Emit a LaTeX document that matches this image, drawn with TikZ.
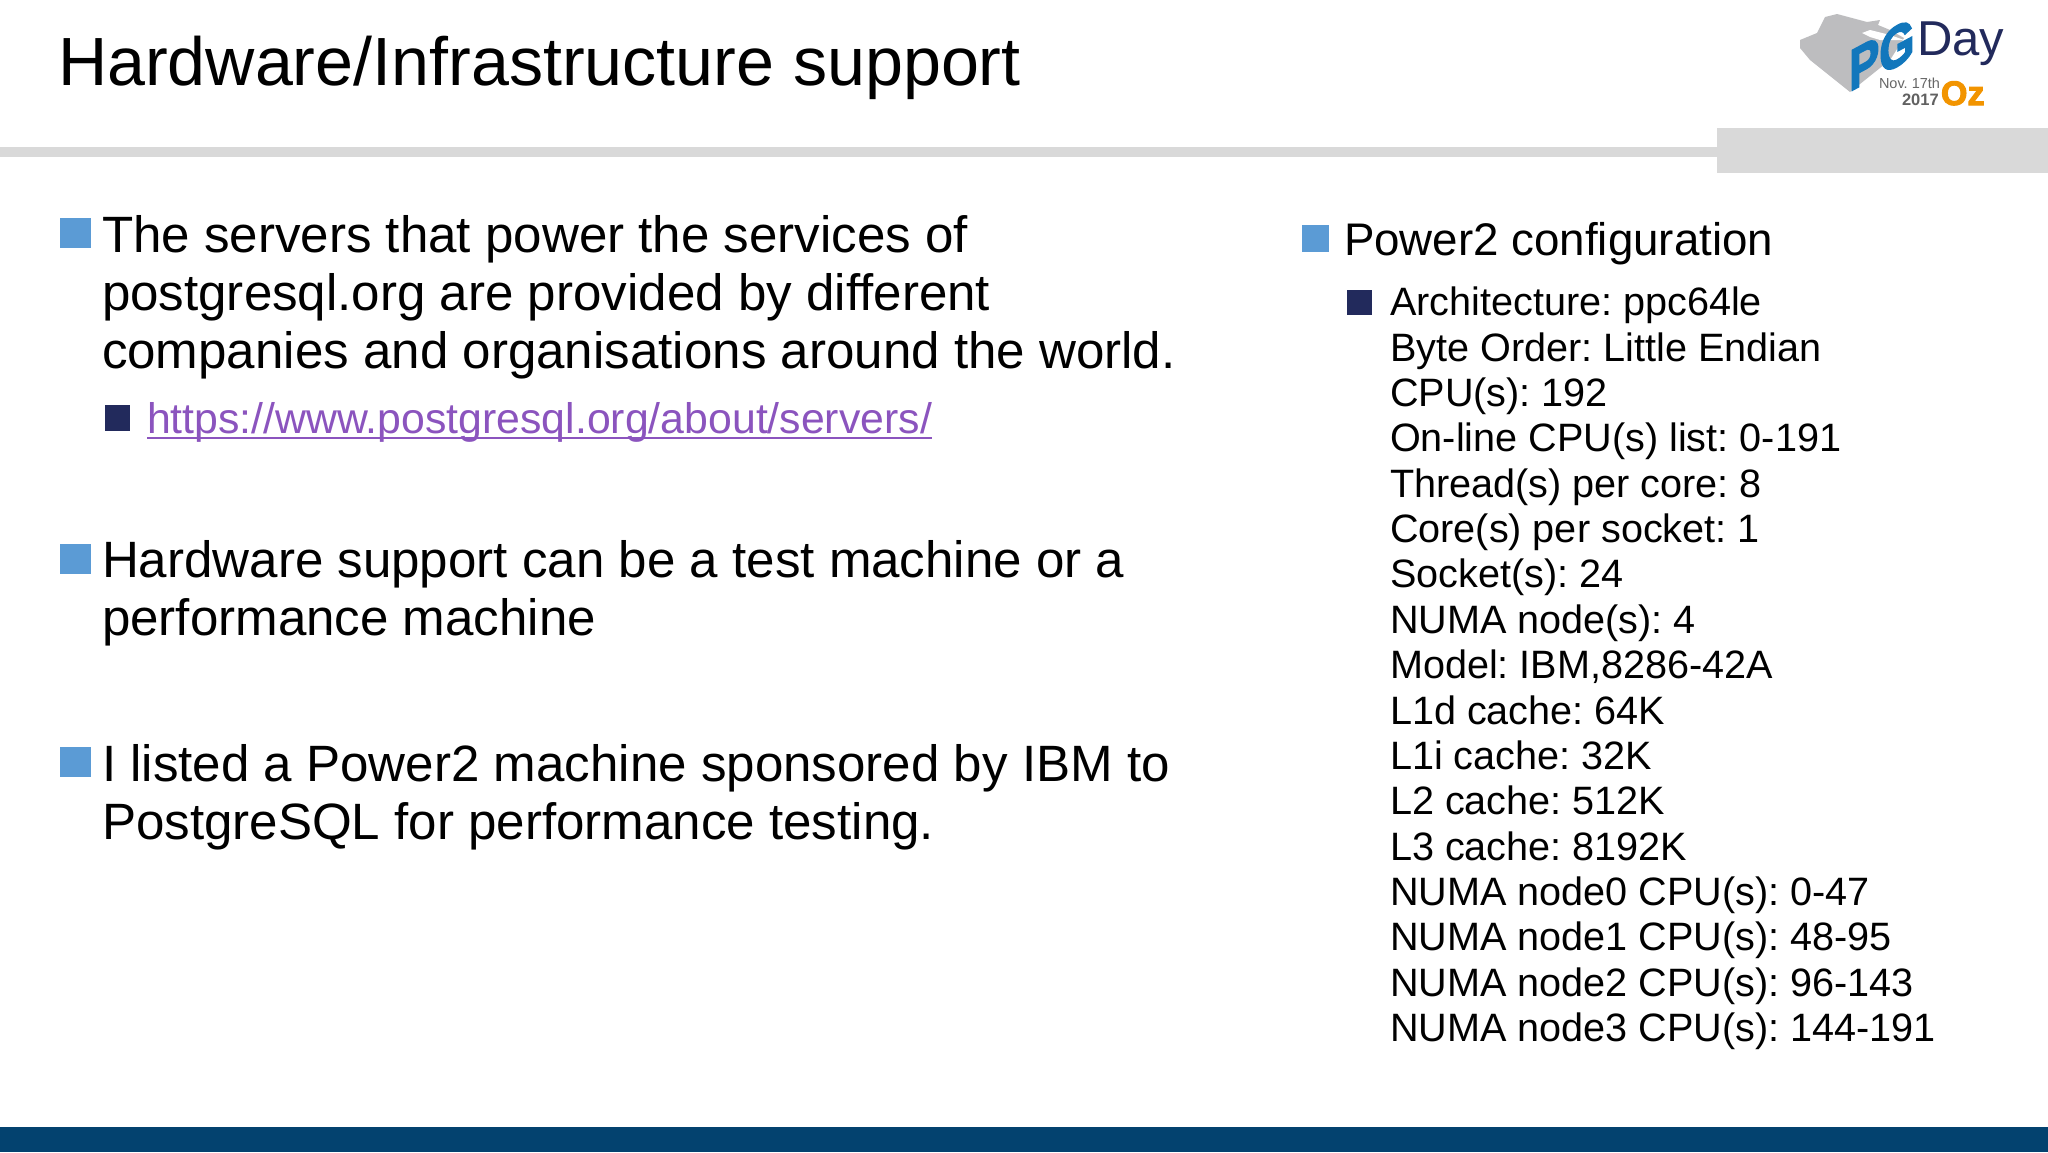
\documentclass[tikz,border=0pt]{standalone}
\usepackage{fontspec}
\setmainfont{Liberation Sans}
\newfontfamily\logoheavy[FakeBold=3]{Liberation Sans Bold}
\frenchspacing
\definecolor{lblue}{HTML}{5B9BD5}
\definecolor{navy}{HTML}{222A5C}
\definecolor{barg}{HTML}{D9D9D9}
\definecolor{foot}{HTML}{03426F}
\definecolor{linkc}{HTML}{8B54BE}
\definecolor{pgblue}{HTML}{1277BC}
\definecolor{ozor}{HTML}{F29400}
\definecolor{mapg}{HTML}{BDBDBF}
\tikzset{
  txt/.style={anchor=base west,inner sep=0pt,outer sep=0pt,text=black},
  main/.style={txt,font=\fontsize{51.1}{58}\selectfont},
  sub/.style={txt,font=\fontsize{42.8}{46}\selectfont},
  small/.style={txt,font=\fontsize{39.6}{45}\selectfont},
  bulletA/.style={fill=lblue,draw=none},
  bulletB/.style={fill=navy,draw=none}
}
\begin{document}
\begin{tikzpicture}[x=1pt,y=-1pt]
\useasboundingbox (0,0) rectangle (2048,1152);
\fill[white] (0,0) rectangle (2048,1152);
% header bars
\fill[barg] (0,147) rectangle (1720,157);
\fill[barg] (1717,128) rectangle (2048,173);
\fill[foot] (0,1127) rectangle (2048,1152);
\node[txt,font=\fontsize{68.2}{70}\selectfont] (title) at (58,85) {Hardware/Infrastructure support};
% logo
\fill[mapg] (1800,40) -- (1817,33) -- (1825,17) -- (1837,14) -- (1867,22) -- (1880,20) -- (1878,25) -- (1890,30) -- (1904,38) -- (1890,60) -- (1850,92) -- (1810,60) -- (1800,48) -- cycle;
\fill[white] (1862,33) -- (1870,30) -- (1890,35) -- (1904,40) -- (1880,40) -- (1870,37) -- cycle;
\node[anchor=base west,inner sep=0pt,text=pgblue,font=\fontsize{58}{58}\logoheavy,xscale=0.78,yslant=0.42,transform shape] (pg) at (1849,92) {PG};
\node[txt,text=navy,font=\fontsize{49}{49}\selectfont] (day) at (1917,55) {Day};
\node[txt,text=black!60,font=\fontsize{14.5}{15}\selectfont] (nov) at (1879,88) {Nov. 17th};
\node[txt,text=black!62,font=\fontsize{16.5}{18}\bfseries] (yr) at (1902,105) {2017};
\node[txt,text=ozor,font=\fontsize{34}{36}\logoheavy] (oz) at (1941,105) {Oz};
% left
\fill[bulletA] (60,218) rectangle (91,248);
\node[main] (a1) at (102,252) {The servers that power the services of};
\node[main] (a2) at (102,310) {postgresql.org are provided by different};
\node[main] (a3) at (102,368) {companies and organisations around the world.};
\fill[bulletB] (105,405) rectangle (130,431);
\node[sub,text=linkc] (link) at (147,433) {https://www.postgresql.org/about/servers/};
\draw[linkc,line width=2.5pt] ([yshift=-5pt]link.base west) -- ([yshift=-5pt]link.base east);
\fill[bulletA] (60,544) rectangle (91,574);
\node[main] (b1) at (102,577) {Hardware support can be a test machine or a};
\node[main] (b2) at (102,635.5) {performance machine};
\fill[bulletA] (60,747) rectangle (91,777);
\node[main] (c1) at (102,781) {I listed a Power2 machine sponsored by IBM to};
\node[main] (c2) at (102,839) {PostgreSQL for performance testing.};
% right
\fill[bulletA] (1302,225) rectangle (1329,252);
\node[txt,font=\fontsize{45.7}{46}\selectfont] (p) at (1344,255) {Power2 configuration};
\fill[bulletB] (1347,290) rectangle (1372,315);
\foreach \i/\t in {0/{Architecture: ppc64le},1/{Byte Order: Little Endian},2/{CPU(s): 192},3/{On-line CPU(s) list: 0-191},4/{Thread(s) per core: 8},5/{Core(s) per socket: 1},6/{Socket(s): 24},7/{NUMA node(s): 4},8/{Model: IBM,8286-42A},9/{L1d cache: 64K},10/{L1i cache: 32K},11/{L2 cache: 512K},12/{L3 cache: 8192K},13/{NUMA node0 CPU(s): 0-47},14/{NUMA node1 CPU(s): 48-95},15/{NUMA node2 CPU(s): 96-143},16/{NUMA node3 CPU(s): 144-191}}
  \node[small] (r\i) at (1390,{315.7+45.375*\i}) {\t};
\end{tikzpicture}
\end{document}
